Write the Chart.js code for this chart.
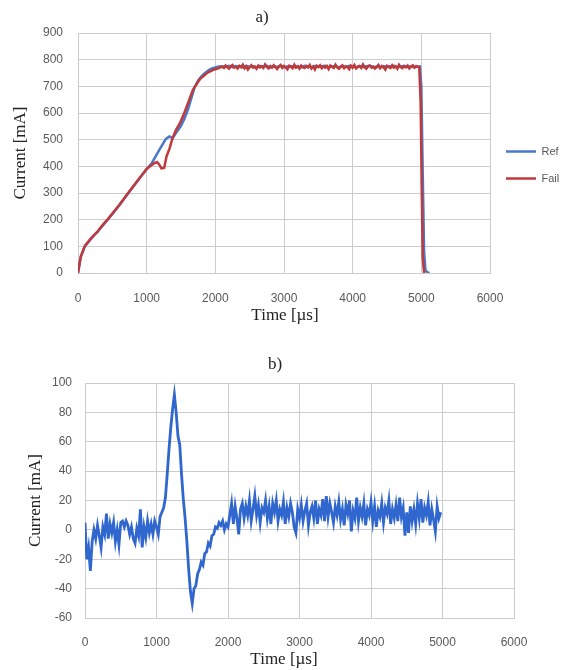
<!DOCTYPE html>
<html>
<head>
<meta charset="utf-8">
<script src="https://cdn.jsdelivr.net/npm/chart.js@4.4.1/dist/chart.umd.min.js"></script>
<style>
  html, body { margin: 0; padding: 0; background: #fff; }
  body { width: 566px; height: 670px; position: relative; overflow: hidden; }
  canvas { position: absolute; left: 0; }
  #chart-a { top: 0; }
  #chart-b { top: 330px; }
</style>
</head>
<body>
<canvas id="chart-a" width="566" height="330"></canvas>
<canvas id="chart-b" width="566" height="340"></canvas>
<script>
// ---- chart a) : Ref vs Fail current ----
const xTicks = [0, 1000, 2000, 3000, 4000, 5000, 6000];

// Ref plateau sampled every 50 us
const refPlateauTime = [
  2100, 2150, 2200, 2250, 2300, 2350, 2400, 2450, 2500, 2550,
  2600, 2650, 2700, 2750, 2800, 2850, 2900, 2950, 3000, 3050,
  3100, 3150, 3200, 3250, 3300, 3350, 3400, 3450, 3500, 3550,
  3600, 3650, 3700, 3750, 3800, 3850, 3900, 3950, 4000, 4050,
  4100, 4150, 4200, 4250, 4300, 4350, 4400, 4450, 4500, 4550,
  4600, 4650, 4700, 4750, 4800, 4850, 4900, 4950
];
// Fail plateau sampled every 25 us (noisier trace)
const failPlateauTime = [
  2100, 2125, 2150, 2175, 2200, 2225, 2250, 2275, 2300, 2325,
  2350, 2375, 2400, 2425, 2450, 2475, 2500, 2525, 2550, 2575,
  2600, 2625, 2650, 2675, 2700, 2725, 2750, 2775, 2800, 2825,
  2850, 2875, 2900, 2925, 2950, 2975, 3000, 3025, 3050, 3075,
  3100, 3125, 3150, 3175, 3200, 3225, 3250, 3275, 3300, 3325,
  3350, 3375, 3400, 3425, 3450, 3475, 3500, 3525, 3550, 3575,
  3600, 3625, 3650, 3675, 3700, 3725, 3750, 3775, 3800, 3825,
  3850, 3875, 3900, 3925, 3950, 3975, 4000, 4025, 4050, 4075,
  4100, 4125, 4150, 4175, 4200, 4225, 4250, 4275, 4300, 4325,
  4350, 4375, 4400, 4425, 4450, 4475, 4500, 4525, 4550, 4575,
  4600, 4625, 4650, 4675, 4700, 4725, 4750, 4775, 4800, 4825,
  4850, 4875, 4900, 4925, 4950
];

const refRiseTime = [0, 40, 100, 180, 250, 280, 340, 450, 600, 760,
  860, 1000, 1070, 1180, 1280, 1330, 1380, 1440, 1500, 1550,
  1600, 1650, 1700, 1750, 1800, 1850, 1900, 1950, 2000, 2050];
const refRise = [0, 60, 100, 125, 146, 152, 172, 205, 253, 308,
  342, 390, 410, 460, 503, 512, 506, 530, 552, 578,
  612, 655, 698, 722, 738, 750, 760, 767, 771, 774];
const refPlateau = [
  775, 773, 777, 772, 776, 774, 771, 777, 773, 775,
  772, 776, 774, 777, 771, 775, 773, 777, 772, 774,
  776, 773, 775, 771, 777, 774, 772, 776, 773, 775,
  777, 772, 774, 776, 771, 775, 773, 777, 774, 772,
  776, 773, 775, 777, 772, 774, 771, 776, 773, 775,
  777, 772, 774, 776, 773, 775, 772, 774
];
const refDropTime = [4980, 5000, 5020, 5040, 5060, 5090, 5120];
const refDrop = [774, 700, 380, 80, 10, 2, 0];

const failRiseTime = [0, 40, 100, 180, 250, 280, 340, 450, 600, 760,
  860, 1000, 1050, 1100, 1150, 1180, 1215, 1255, 1290, 1335,
  1375, 1430, 1490, 1545, 1600, 1675, 1780, 1880, 1960, 2000, 2050];
const failRise = [0, 62, 102, 127, 147, 154, 174, 207, 255, 310,
  344, 390, 400, 410, 416, 408, 392, 394, 438, 468,
  505, 538, 565, 598, 636, 688, 728, 750, 761, 764, 768];
const failPlateau = [
  774, 769, 778, 771, 766, 776, 780, 770, 773, 767,
  777, 772, 781, 768, 775, 763, 772, 779, 770, 774,
  766, 778, 771, 775, 769, 782, 773, 767, 776, 770,
  779, 772, 765, 774, 780, 769, 776, 771, 764, 777,
  773, 768, 781, 770, 775, 766, 778, 772, 769, 776,
  771, 780, 767, 774, 763, 777, 772, 779, 768, 775,
  770, 776, 765, 778, 773, 769, 781, 771, 766, 774,
  779, 768, 775, 772, 764, 777, 770, 780, 767, 773,
  776, 769, 782, 771, 766, 775, 778, 770, 774, 767,
  772, 780, 768, 776, 771, 763, 777, 773, 769, 779,
  770, 775, 766, 781, 772, 768, 776, 771, 778, 767,
  774, 779, 770, 776, 773
];
const failDropTime = [4970, 4990, 5005, 5020, 5040];
const failDrop = [772, 640, 330, 60, 0];

// ---- chart b) : difference current ----
const diffTime = [
  0, 25, 50, 75, 100, 125, 150, 175, 200, 225, 250, 275, 300, 325, 350, 375, 400, 425, 450, 475,
  500, 525, 550, 575, 600, 625, 650, 675, 700, 725, 750, 775, 800, 825, 850, 875, 900, 925, 950, 975,
  1000, 1025, 1050, 1075, 1100, 1125, 1150, 1175, 1200, 1225, 1250, 1275, 1300, 1325, 1350, 1375, 1400, 1425, 1450, 1475,
  1500, 1525, 1550, 1575, 1600, 1625, 1650, 1675, 1700, 1725, 1750, 1775, 1800, 1825, 1850, 1875, 1900, 1925, 1950, 1975,
  2000, 2025, 2050, 2075, 2100, 2125, 2150, 2175, 2200, 2225, 2250, 2275, 2300, 2325, 2350, 2375, 2400, 2425, 2450, 2475,
  2500, 2525, 2550, 2575, 2600, 2625, 2650, 2675, 2700, 2725, 2750, 2775, 2800, 2825, 2850, 2875, 2900, 2925, 2950, 2975,
  3000, 3025, 3050, 3075, 3100, 3125, 3150, 3175, 3200, 3225, 3250, 3275, 3300, 3325, 3350, 3375, 3400, 3425, 3450, 3475,
  3500, 3525, 3550, 3575, 3600, 3625, 3650, 3675, 3700, 3725, 3750, 3775, 3800, 3825, 3850, 3875, 3900, 3925, 3950, 3975,
  4000, 4025, 4050, 4075, 4100, 4125, 4150, 4175, 4200, 4225, 4250, 4275, 4300, 4325, 4350, 4375, 4400, 4425, 4450, 4475,
  4500, 4525, 4550, 4575, 4600, 4625, 4650, 4675, 4700, 4725, 4750, 4775, 4800, 4825, 4850, 4875, 4900, 4925, 4950, 4975
];
const diffCurrent = [
  5, -20, -12, -28, -8, 0, -6, 3, -4, -12, 2, -3, 11, -6, 4, -2, 5, -8, 0, -10,
  5, 6, 2, 6, 3, -3, 2, -6, -9, 1, -4, 14, -12, 2, -5, 6, -2, 4, -3, 6,
  2, -3, 9, 12, 15, 22, 38, 55, 70, 82, 92, 80, 64, 58, 38, 21, 8, -8, -27, -42,
  -50, -40, -38, -30, -27, -22, -24, -16, -15, -9, -11, -4, -3, 2, 1, 5, 3, 6, 0, 4,
  2, 10, 18, 4, 16, 8, -3, 14, 18, 8, 16, 10, 20, 6, 14, 23, 10, 17, 5, 15,
  12, 20, 8, 16, 4, 18, 12, 20, 6, 14, 10, 19, 4, 15, 9, 18, 12, 2, -2, 14,
  8, 17, 6, 13, 18, 3, 12, 16, 8, 20, 4, 14, 10, 21, 6, 23, 9, 18, 12, 5,
  16, 10, 19, 7, 14, 3, 17, 11, 20, -1, 13, 8, 22, 6, 15, 9, 18, 3, 14, 10,
  19, 6, 16, 2, 13, 9, 18, 5, 15, 11, 20, 4, 14, 8, 17, 6, 22, 9, 15, -4,
  12, -2, 16, 6, 14, 4, 18, 8, 21, 5, 15, 10, 19, 3, 14, 7, -1, 16, 8, 12
];

function toPoints(xs, ys) {
  return xs.map((x, i) => ({ x: x, y: ys[i] }));
}

Chart.defaults.font.family = '"Liberation Sans", Arial, sans-serif';
Chart.defaults.animation = false;

const GRID = '#cccccc';
const TICK = '#595959';
const SERIF = '"Liberation Serif", "Times New Roman", serif';

// simple plugin for captions ("a)", "Time [µs]") placed like the original
const captionPlugin = {
  id: 'captions',
  afterDraw(chart, args, opts) {
    const ctx = chart.ctx;
    ctx.save();
    ctx.font = opts.font;
    ctx.fillStyle = opts.color;
    ctx.textAlign = 'center';
    ctx.textBaseline = 'middle';
    opts.items.forEach(it => ctx.fillText(it.text, it.x, it.y));
    ctx.restore();
  }
};

function xScale(padding, height) {
  return {
    type: 'linear',
    min: 0,
    max: 6000,
    afterBuildTicks: (scale) => { scale.ticks = xTicks.map(v => ({ value: v })); },
    afterFit: (scale) => { scale.height = height; },
    grid: { color: GRID, drawTicks: false },
    border: { color: GRID },
    ticks: { color: TICK, font: { size: 12 }, padding: padding, maxRotation: 0, callback: (v) => String(v) }
  };
}

function yScale(min, max, step, width, tickPad, titlePad) {
  return {
    min: min,
    max: max,
    afterFit: (scale) => { scale.width = width; },
    grid: { color: GRID, drawTicks: false },
    border: { color: GRID },
    ticks: { color: TICK, font: { size: 12 }, padding: tickPad, stepSize: step, callback: (v) => String(v) },
    title: {
      display: true,
      text: 'Current [mA]',
      color: '#222',
      font: { family: SERIF, size: 17 },
      padding: { top: titlePad, bottom: 0 }
    }
  };
}

new Chart(document.getElementById('chart-a'), {
  type: 'line',
  data: {
    datasets: [{
      label: 'Ref',
      data: toPoints([...refRiseTime, ...refPlateauTime, ...refDropTime], [...refRise, ...refPlateau, ...refDrop]),
      borderColor: '#4a78c8',
      backgroundColor: '#4a78c8',
      borderWidth: 2.5,
      pointRadius: 0,
      tension: 0,
      order: 1
    }, {
      label: 'Fail',
      data: toPoints([...failRiseTime, ...failPlateauTime, ...failDropTime], [...failRise, ...failPlateau, ...failDrop]),
      borderColor: '#c0393b',
      backgroundColor: '#c0393b',
      borderWidth: 2.5,
      pointRadius: 0,
      tension: 0,
      order: 0
    }]
  },
  options: {
    responsive: false,
    layout: { padding: { top: 33, left: 0, right: 0, bottom: 0 } },
    scales: {
      x: xScale(18, 57),
      y: yScale(0, 900, 100, 78, 15, 10)
    },
    plugins: {
      legend: {
        position: 'right',
        fullSize: false,
        maxWidth: 76,
        title: { display: true, text: '', font: { size: 10 }, padding: { top: 12, bottom: 0 } },
        labels: {
          usePointStyle: true,
          pointStyle: 'line',
          pointStyleWidth: 30,
          color: TICK,
          font: { size: 11 },
          padding: 16,
          sort: (a, b) => a.datasetIndex - b.datasetIndex
        }
      },
      tooltip: { enabled: false },
      captions: {
        font: '17px ' + SERIF,
        color: '#222',
        items: [
          { text: 'a)', x: 262, y: 18 },
          { text: 'Time [\u00b5s]', x: 285, y: 316 }
        ]
      }
    }
  },
  plugins: [captionPlugin]
});

new Chart(document.getElementById('chart-b'), {
  type: 'line',
  data: {
    datasets: [{
      label: 'Diff',
      data: toPoints(diffTime, diffCurrent),
      borderColor: '#2f67cf',
      backgroundColor: '#2f67cf',
      borderWidth: 2.8,
      pointRadius: 0,
      tension: 0
    }]
  },
  options: {
    responsive: false,
    layout: { padding: { top: 53, left: 0, right: 52, bottom: 0 } },
    scales: {
      x: xScale(17, 52),
      y: yScale(-60, 100, 20, 85, 13, 25)
    },
    plugins: {
      legend: { display: false },
      tooltip: { enabled: false },
      captions: {
        font: '17px ' + SERIF,
        color: '#222',
        items: [
          { text: 'b)', x: 275, y: 35 },
          { text: 'Time [\u00b5s]', x: 284, y: 330 }
        ]
      }
    }
  },
  plugins: [captionPlugin]
});
</script>
</body>
</html>
